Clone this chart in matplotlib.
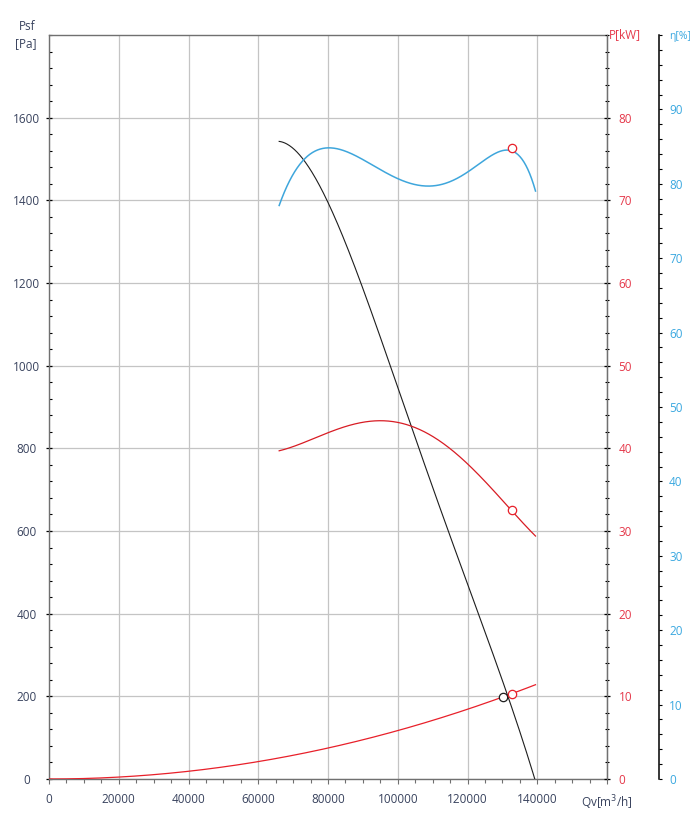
"""Fan performance chart: static pressure, shaft power and efficiency vs. flow."""

import matplotlib.pyplot as plt
import numpy as np
from matplotlib.ticker import MultipleLocator

# Static pressure curve Psf [Pa]
FLOW_PSF = [66000, 70000, 73000, 76800, 80000, 84000, 89200, 93000, 97600,
            102000, 106400, 110500, 114700, 119000, 123000, 127200, 131300,
            135500, 139500]
PSF = [1537, 1525, 1503, 1458, 1400, 1310, 1200, 1110, 1000,
       897, 800, 700, 600, 500, 400, 300, 200, 100, 0]

# Shaft power P [kW]
FLOW_P = [66000, 72000, 80200, 88000, 95500, 100000, 106000, 112400, 115000,
          120000, 127700, 132650, 139500]
POWER = [39.7, 40.5, 42.0, 42.95, 43.3, 43.1, 42.3, 40.9, 40.0,
         38.1, 34.7, 32.5, 29.4]

# Efficiency eta [%]
FLOW_ETA = [66000, 69150, 73000, 77000, 80600, 85000, 92300, 100000, 105000,
            109000, 114000, 120000, 125000, 129000, 131600, 134000, 136100,
            139500]
ETA = [77.1, 80.5, 83.3, 84.5, 84.8, 84.4, 82.7, 80.6, 79.9,
       79.7, 80.2, 81.6, 83.0, 84.3, 84.8, 84.2, 82.7, 79.1]

# System resistance curve [Pa]
FLOW_SYS = [0, 20000, 40000, 60000, 80000, 100000, 120000, 139500]
SYS = [0, 4.7, 18.7, 42, 75, 117, 169, 228]

# Operating points
OP_FLOW = 132650
OP_PSF = 206
OP_POWER = 32.5
OP_ETA = 84.8
SYS_FLOW = 130100
SYS_PSF = 199

X_TICKS = list(range(0, 160001, 20000))
X_LABELS = [str(v) for v in X_TICKS[:-1]] + ["Qv[m$^3$/h]"]
PSF_TICKS = list(range(0, 1601, 200))
P_TICKS = list(range(0, 81, 10))
ETA_TICKS = list(range(0, 101, 10))
ETA_LABELS = [str(v) for v in ETA_TICKS[:-1]] + ["η[%]"]

TXT = "#39435e"
RED_TXT = "#e5384a"
BLUE_TXT = "#3aa8e0"
GRID = "#c4c4c4"
SPINE = "#707070"

plt.rcParams.update({"font.family": ["Open Sans", "DejaVu Sans"], "font.size": 8.5})


def smooth(x, y, deg, num=400):
    """Least-squares polynomial through the read-off points."""
    x = np.asarray(x, float)
    y = np.asarray(y, float)
    x0, span = x[0], x[-1] - x[0]
    coef = np.polyfit((x - x0) / span, y, deg)
    xs = np.linspace(x[0], x[-1], num)
    return xs, np.polyval(coef, (xs - x0) / span)


fig = plt.figure(figsize=(6.9, 8.19), dpi=100)
ax = fig.add_axes([49 / 690, 40 / 819, 558 / 690, 744 / 819])
ax.set_xlim(0, 160000)
ax.set_ylim(0, 1800)
ax.set_xticks(X_TICKS)
ax.set_xticklabels(X_LABELS)
ax.set_yticks(PSF_TICKS)
ax.set_yticklabels([str(v) for v in PSF_TICKS], ha="center")
ax.xaxis.set_minor_locator(MultipleLocator(5000))
ax.yaxis.set_minor_locator(MultipleLocator(40))
ax.grid(True, which="major", color=GRID, lw=0.9)
ax.set_axisbelow(True)
for s in ax.spines.values():
    s.set_color(SPINE)
    s.set_linewidth(1.0)
ax.tick_params(axis="y", which="major", direction="inout", length=4.3,
               width=0.9, color="black", pad=13.8, labelcolor=TXT)
ax.tick_params(axis="y", which="minor", direction="in", length=2.5,
               width=0.8, color="black")
ax.tick_params(axis="x", which="major", direction="out", length=3.6,
               width=0.8, color=SPINE, pad=6.5, labelcolor=TXT)
ax.tick_params(axis="x", which="minor", direction="out", length=3.0,
               width=0.8, color=SPINE)

# Power axis
ax2 = ax.twinx()
ax2.set_ylim(0, 90)
ax2.set_yticks(P_TICKS)
ax2.yaxis.set_minor_locator(MultipleLocator(2))
for name, s in ax2.spines.items():
    s.set_visible(name == "right")
ax2.spines["right"].set_color(SPINE)
ax2.tick_params(axis="y", which="major", direction="inout", length=4.5,
                width=0.9, color="black", pad=6.1, labelcolor=RED_TXT)
ax2.tick_params(axis="y", which="minor", direction="inout", length=3.5,
                width=0.8, color="black")

# Efficiency axis
ax3 = ax.twinx()
ax3.set_ylim(0, 100)
ax3.set_yticks(ETA_TICKS)
ax3.set_yticklabels(ETA_LABELS)
ax3.yaxis.set_minor_locator(MultipleLocator(2))
for name, s in ax3.spines.items():
    s.set_visible(name == "right")
ax3.spines["right"].set_position(("axes", 610 / 558))
ax3.spines["right"].set_color("black")
ax3.spines["right"].set_linewidth(1.1)
ax3.tick_params(axis="y", which="major", direction="out", length=2.2,
                width=0.8, color="black", pad=5.0, labelcolor=BLUE_TXT)
ax3.tick_params(axis="y", which="minor", direction="out", length=2.2,
                width=0.8, color="black")
ax3.get_yticklabels()[-1].set_fontsize(7.5)

# Curves
xs, ys = smooth(FLOW_SYS, SYS, 2)
ax.plot(xs, ys, color="#e8202a", lw=0.9, zorder=3)
xs, ys = smooth(FLOW_PSF, PSF, 4)
ax.plot(xs, ys, color="#1e1e1e", lw=0.8, zorder=3)
xs, ys = smooth(FLOW_P, POWER, 4)
ax2.plot(xs, ys, color="#d81c24", lw=0.9, zorder=3)
xs, ys = smooth(FLOW_ETA, ETA, 7)
ax3.plot(xs, ys, color="#3ea6dc", lw=1.1, zorder=3)

mk = dict(marker="o", ms=6, mfc="white", mew=0.9, ls="none", zorder=5)
ax.plot([SYS_FLOW], [SYS_PSF], mec="#1e1e1e", **mk)
ax.plot([OP_FLOW], [OP_PSF], mec="#e8202a", **mk)
ax2.plot([OP_FLOW], [OP_POWER], mec="#e8202a", **mk)
ax3.plot([OP_FLOW], [OP_ETA], mec="#e8202a", **mk)

# Axis titles
fig.text(27.5 / 690, 1 - 27 / 819, "Psf", ha="center", va="center", color=TXT)
fig.text(25.5 / 690, 1 - 44 / 819, "[Pa]", ha="center", va="center", color=TXT)
fig.text(609 / 690, 1 - 35 / 819, "P[kW]", ha="left", va="center", color=RED_TXT)

fig.savefig("out.png", dpi=100, facecolor="white")
